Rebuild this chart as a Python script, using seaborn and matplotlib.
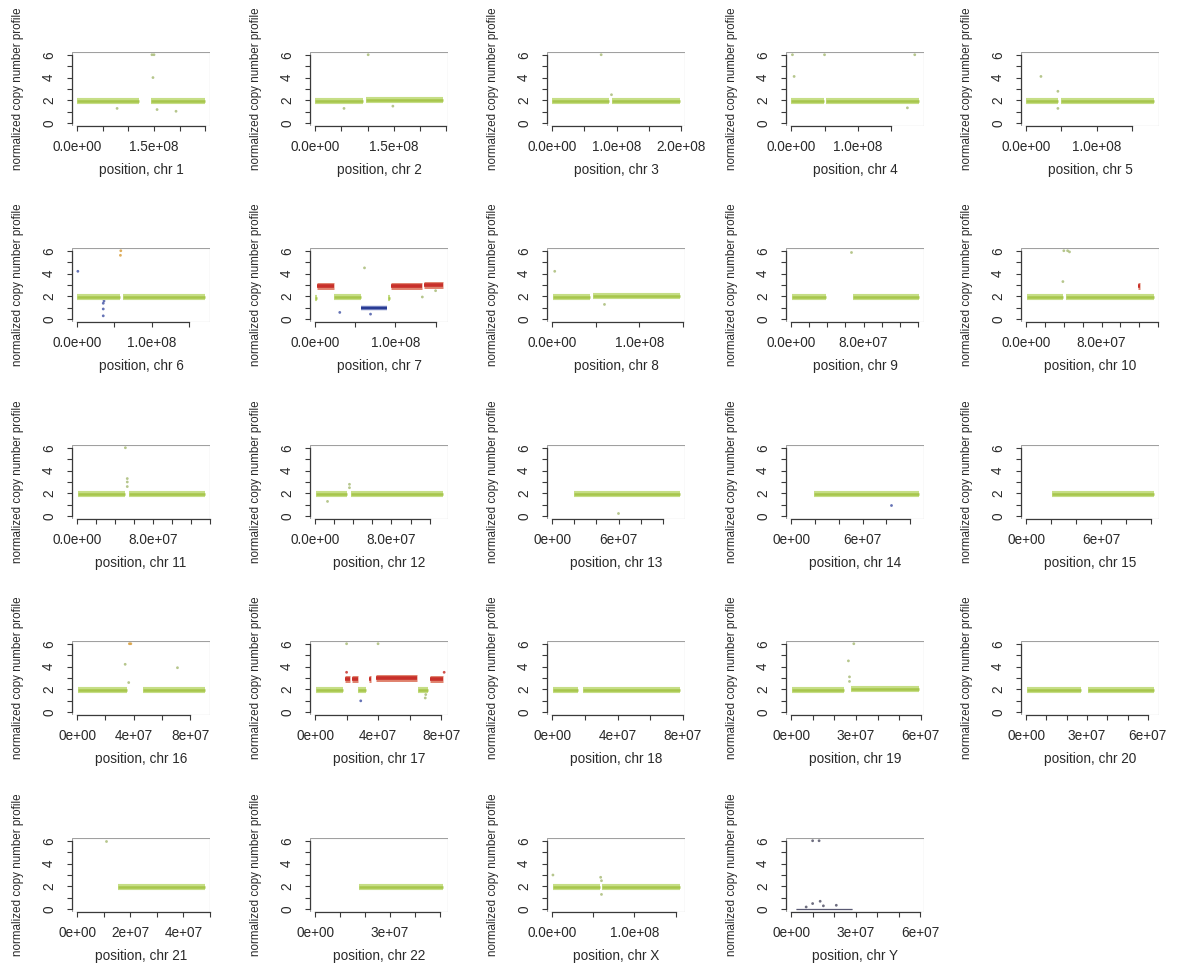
import numpy as np
import pandas as pd
import matplotlib
matplotlib.use("Agg")
import matplotlib.pyplot as plt
import seaborn as sns
from matplotlib.patches import Rectangle
from matplotlib.ticker import FixedLocator

# ---------------- data ----------------
CHROMS = ["1", "2", "3", "4", "5", "6", "7", "8", "9", "10", "11", "12",
          "13", "14", "15", "16", "17", "18", "19", "20", "21", "22", "X", "Y"]
CHR_LEN_MB = [249.3, 243.2, 198.0, 191.2, 180.9, 171.1, 159.1, 146.4, 141.2, 135.5,
              135.0, 133.9, 115.2, 107.3, 102.5, 90.4, 81.2, 78.1, 59.1, 63.0,
              48.1, 51.3, 155.3, 59.4]
TICK_STEP_MB = [50, 50, 50, 50, 50, 50, 50, 50, 20, 20, 20, 20,
                20, 20, 20, 20, 20, 20, 10, 10, 10, 10, 50, 10]
TICK_LABELS = [
    ["0.0e+00", "1.5e+08"], ["0.0e+00", "1.5e+08"], ["0.0e+00", "1.0e+08", "2.0e+08"],
    ["0.0e+00", "1.0e+08"], ["0.0e+00", "1.0e+08"], ["0.0e+00", "1.0e+08"],
    ["0.0e+00", "1.0e+08"], ["0.0e+00", "1.0e+08"], ["0.0e+00", "8.0e+07"],
    ["0.0e+00", "8.0e+07"], ["0.0e+00", "8.0e+07"], ["0.0e+00", "8.0e+07"],
    ["0e+00", "6e+07"], ["0e+00", "6e+07"], ["0e+00", "6e+07"],
    ["0e+00", "4e+07", "8e+07"], ["0e+00", "4e+07", "8e+07"], ["0e+00", "4e+07", "8e+07"],
    ["0e+00", "3e+07", "6e+07"], ["0e+00", "3e+07", "6e+07"], ["0e+00", "2e+07", "4e+07"],
    ["0e+00", "3e+07"], ["0.0e+00", "1.0e+08"], ["0e+00", "3e+07", "6e+07"],
]

# segments: chromosome, start (Mb), end (Mb), copy number
SEG_CHR = ["1", "1", "2", "2", "3", "3", "4", "4", "5", "5", "6", "6",
           "7", "7", "7", "7", "7", "7", "7",
           "8", "8", "9", "9", "10", "10", "10", "11", "11", "12", "12",
           "13", "14", "15", "16", "16",
           "17", "17", "17", "17", "17", "17", "17", "17",
           "18", "18", "19", "19", "20", "20", "21", "22", "X", "X", "Y"]
SEG_START = [0.5, 144, 0.5, 96, 0.5, 93, 0.5, 52, 0.5, 49, 0.5, 62,
             0.0, 2.8, 24, 57.5, 90.5, 94.5, 135.5,
             0.5, 47, 0.5, 68, 0.5, 42.5, 118.5, 0.5, 55, 0.5, 38,
             19.5, 19.5, 21, 0.5, 46.5,
             0.3, 19, 23.5, 27.5, 34, 39, 65.5, 73,
             0.3, 19, 0.3, 27.5, 0.3, 30.5, 15.5, 17.5, 0.5, 61, 2.5]
SEG_END = [120, 249, 92, 243, 88, 198, 49, 191, 45, 181, 58, 171,
           2.5, 23.5, 57, 90, 93.5, 132.5, 159,
           43, 146, 39, 141, 39, 135.5, 121, 51, 135, 33, 134,
           115, 107, 102.5, 35, 90.3,
           18, 22, 27, 32.5, 35.5, 65, 72, 81,
           16, 78, 24.5, 59, 27, 63, 48, 51.2, 58, 155, 28.5]
SEG_CN = [1.97, 1.97, 1.98, 2.0, 1.97, 1.95, 1.97, 1.97, 1.97, 1.95, 1.97, 1.95,
          1.9, 2.95, 1.92, 0.98, 1.85, 2.95, 2.98,
          1.97, 2.0, 1.97, 1.95, 1.95, 1.97, 2.95, 1.97, 1.98, 1.97, 1.98,
          1.97, 1.97, 1.97, 1.97, 1.97,
          1.97, 2.95, 2.95, 1.95, 2.95, 2.98, 1.95, 2.95,
          1.97, 1.98, 1.98, 2.02, 1.97, 1.98, 1.97, 1.97, 1.97, 1.97, 0.05]

# isolated probes (outliers): chromosome, position (Mb), copy number, colour class
OUT_CHR = ["1", "1", "1", "1", "1", "1", "2", "2", "2", "3", "3",
           "4", "4", "4", "4", "4", "5", "5", "5",
           "6", "6", "6", "6", "6", "6", "6", "7", "7", "7", "7", "7",
           "8", "8", "9", "10", "10", "10", "10", "11", "11", "11", "11",
           "12", "12", "12", "13", "14", "16", "16", "16", "16", "16",
           "17", "17", "17", "17", "17", "17", "17", "19", "19", "19", "19",
           "21", "X", "X", "X", "X",
           "Y", "Y", "Y", "Y", "Y", "Y", "Y"]
OUT_POS = [146, 150, 148, 193, 156, 78, 55, 148, 101, 76, 92,
           4.5, 174, 2, 50, 185, 21, 45, 45,
           58, 58.5, 35, 35, 35, 36, 1, 61.5, 69, 30.7, 150, 133.5,
           3, 60, 66, 39, 40, 44, 46, 53, 53, 53, 51,
           36, 36, 13, 59, 84, 37, 38, 34, 71, 36.5,
           29, 70, 70.3, 20, 82, 20, 40, 27, 27, 26.5, 29,
           10.8, 59, 60, 60, 1,
           10, 13, 10, 13.5, 21, 7, 15]
OUT_CN = [6.0, 6.0, 4.0, 1.05, 1.2, 1.3, 1.3, 1.5, 6.0, 6.0, 2.5,
          4.1, 1.35, 6.0, 6.0, 6.0, 4.1, 1.3, 2.8,
          5.6, 6.0, 0.3, 0.9, 1.4, 1.6, 4.2, 4.5, 0.45, 0.6, 2.5, 1.95,
          4.2, 1.3, 5.9, 3.3, 6.0, 6.0, 5.9, 2.6, 3.0, 3.3, 6.0,
          2.5, 2.8, 1.3, 0.3, 1.0, 6.0, 6.0, 4.2, 3.9, 2.6,
          1.0, 1.25, 1.55, 3.5, 3.5, 6.0, 6.0, 2.7, 3.1, 4.5, 6.0,
          6.0, 2.8, 2.5, 1.3, 3.0,
          6.0, 6.0, 0.5, 0.7, 0.35, 0.2, 0.3]
OUT_CLASS = ["n", "n", "n", "n", "n", "n", "n", "n", "n", "n", "n",
             "n", "n", "n", "n", "n", "n", "n", "n",
             "o", "o", "b", "b", "b", "b", "b", "n", "b", "b", "n", "n",
             "n", "n", "n", "n", "n", "n", "n", "n", "n", "n", "n",
             "n", "n", "n", "n", "b", "o", "o", "n", "n", "n",
             "b", "n", "n", "r", "r", "n", "n", "n", "n", "n", "n",
             "n", "n", "n", "n", "n",
             "k", "k", "k", "k", "k", "k", "k"]

# ---------------- style ----------------
sns.set_theme(style="white")
plt.rcParams["font.family"] = ["Liberation Sans", "DejaVu Sans"]

PAL_OUT = {"neutral": "#c6de86", "gain": "#e0826e", "loss": "#7b88c4", "null": "#8a8aa0"}
PAL_CORE = {"neutral": "#a7c64c", "gain": "#c8302a", "loss": "#283b93", "null": "#44445e"}
LW_OUT = {"neutral": 4.4, "gain": 5.0, "loss": 3.2, "null": 1.0}
LW_CORE = {"neutral": 1.8, "gain": 2.6, "loss": 1.6, "null": 0.5}
PT_COL = {"n": "#a9bc78", "o": "#d9a040", "b": "#4a5aa8", "r": "#c8302a", "k": "#55556a"}


def state_of(cn):
    if cn < 0.5:
        return "null"
    if cn < 1.5:
        return "loss"
    if cn > 2.5:
        return "gain"
    return "neutral"


seg = pd.DataFrame({"chr": SEG_CHR, "start": SEG_START, "end": SEG_END, "cn": SEG_CN})
seg["state"] = seg["cn"].map(state_of)
seg["id"] = np.arange(len(seg))
seg_long = pd.concat([
    seg.assign(pos=seg["start"] * 1e6),
    seg.assign(pos=seg["end"] * 1e6),
]).sort_values(["id", "pos"])

out = pd.DataFrame({"chr": OUT_CHR, "pos": np.array(OUT_POS) * 1e6, "cn": OUT_CN,
                    "cls": OUT_CLASS})

W, H = 1178, 968
fig = plt.figure(figsize=(W / 100, H / 100), dpi=100)
fig.patch.set_facecolor("white")

COL_LEFT = [72, 310, 547, 786, 1021]
ROW_TOP = [52, 248, 445, 641, 838]
AX_W, AX_H = 138, 74

for i, ch in enumerate(CHROMS):
    r, c = divmod(i, 5)
    left, top = COL_LEFT[c], ROW_TOP[r]
    ax = fig.add_axes([left / W, 1 - (top + AX_H) / H, AX_W / W, AX_H / H])
    L = CHR_LEN_MB[i] * 1e6

    d = seg_long[seg_long["chr"] == ch]
    if len(d):
        sns.lineplot(data=d, x="pos", y="cn", units="id", estimator=None, sort=False,
                     hue="state", palette=PAL_OUT, size="state", sizes=LW_OUT,
                     legend=False, ax=ax, solid_capstyle="butt")
        sns.lineplot(data=d, x="pos", y="cn", units="id", estimator=None, sort=False,
                     hue="state", palette=PAL_CORE, size="state", sizes=LW_CORE,
                     legend=False, ax=ax, solid_capstyle="butt")
    o = out[out["chr"] == ch]
    if len(o):
        sns.scatterplot(data=o, x="pos", y="cn", hue="cls", palette=PT_COL,
                        s=4, linewidth=0, alpha=0.85, legend=False, ax=ax)

    ax.set_xlim(-0.04 * L, 1.04 * L)
    ax.set_ylim(-0.24, 6.24)
    ax.set_facecolor("white")

    step = TICK_STEP_MB[i] * 1e6
    all_ticks = np.arange(0, 1.04 * L, step)
    lab_pos = [float(s) for s in TICK_LABELS[i]]
    ax.set_xticks(lab_pos)
    ax.set_xticklabels(TICK_LABELS[i])
    ax.xaxis.set_minor_locator(FixedLocator([t for t in all_ticks if t not in lab_pos]))
    ax.set_yticks([0, 2, 4, 6])
    ax.set_yticklabels(["0", "2", "4", "6"])
    ax.yaxis.set_minor_locator(FixedLocator([1, 3, 5]))

    for side in ["top", "right"]:
        ax.spines[side].set_visible(False)
    ax.spines["left"].set_bounds(0, 6)
    ax.spines["bottom"].set_bounds(0, all_ticks[-1])
    for side in ["left", "bottom"]:
        ax.spines[side].set_color("#3a3a3a")
        ax.spines[side].set_linewidth(0.9)
    ax.add_patch(Rectangle((0, 0), 1, 1, transform=ax.transAxes, fill=False,
                           ec="#a0a0a0", lw=0.8, zorder=0.5))

    ax.tick_params(which="both", direction="out", length=3.4, width=0.8,
                   color="#3a3a3a", bottom=True, left=True)
    ax.tick_params(axis="x", which="major", labelsize=9.8, pad=6.5, labelcolor="#2a2a2a")
    ax.tick_params(axis="y", which="major", labelsize=9.8, pad=8, labelcolor="#2a2a2a",
                   labelrotation=90)
    for lab in ax.get_yticklabels():
        lab.set_va("center")

    ax.set_xlabel(f"position, chr {ch}", fontsize=9.8, color="#2a2a2a")
    ax.set_ylabel("normalized copy number profile", fontsize=8.4, color="#2a2a2a")
    ax.xaxis.set_label_coords(0.5, -0.50)
    ax.yaxis.set_label_coords(-0.35, 0.5)

fig.savefig("out.png", dpi=100, facecolor="white")
